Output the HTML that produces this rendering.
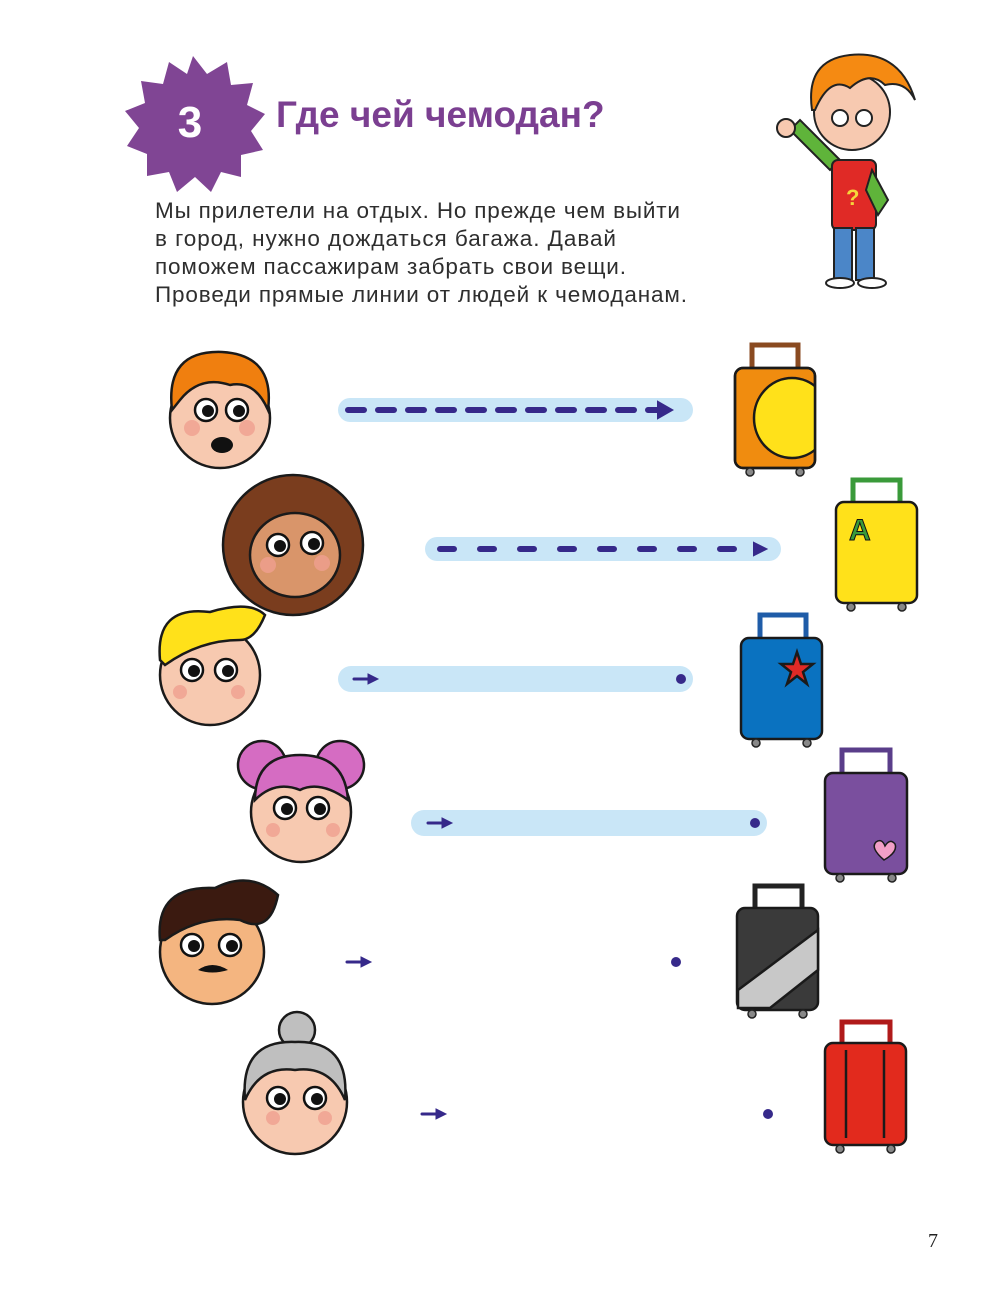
<!DOCTYPE html>
<html><head><meta charset="utf-8"><style>
body{margin:0;background:#fff;}
svg{display:block}
</style></head><body>
<svg width="1000" height="1307" viewBox="0 0 1000 1307" xmlns="http://www.w3.org/2000/svg">
<defs>
<clipPath id="oc"><rect x="735" y="368" width="80" height="100" rx="8"/></clipPath>
</defs>
<!-- star -->
<polygon fill="#804594" points="190,56 204,74 224,62 228,85 250,83 244,105 262,114 248,131 260,150 238,155 238,177 218,172 208,192 192,177 174,192 166,172 144,176 144,154 124,146 136,128 122,111 142,103 138,81 160,84 166,62 184,74" transform="translate(3,0)"/>
<text x="190" y="137" font-family="Liberation Sans, sans-serif" font-weight="bold" font-size="44" fill="#fff" text-anchor="middle">3</text>
<text x="276" y="127" font-family="Liberation Sans, 'DejaVu Sans', sans-serif" font-weight="bold" font-size="37" fill="#7b3f91">Где чей чемодан?</text>
<g font-family="Liberation Sans, 'DejaVu Sans', sans-serif" font-size="22.5" fill="#2e2e2e">
<text x="155" y="218" textLength="525">Мы прилетели на отдых. Но прежде чем выйти</text>
<text x="155" y="246" textLength="461">в город, нужно дождаться багажа. Давай</text>
<text x="155" y="274" textLength="471">поможем пассажирам забрать свои вещи.</text>
<text x="155" y="302" textLength="532">Проведи прямые линии от людей к чемоданам.</text>
</g>
<!-- kid character -->
<g stroke="#222" stroke-width="2">
<path d="M790 130 L830 170 L840 160 L800 120 Z" fill="#5fb43a"/>
<circle cx="786" cy="128" r="9" fill="#f7c9b0"/>
<rect x="832" y="160" width="44" height="70" rx="6" fill="#e02a26"/>
<path d="M872 170 L888 200 L878 215 L866 190 Z" fill="#5fb43a"/>
<rect x="834" y="228" width="18" height="52" fill="#4b86c8"/>
<rect x="856" y="228" width="18" height="52" fill="#4b86c8"/>
<ellipse cx="840" cy="283" rx="14" ry="5" fill="#fff"/>
<ellipse cx="872" cy="283" rx="14" ry="5" fill="#fff"/>
<circle cx="852" cy="112" r="38" fill="#f7c9b0"/>
<path d="M812 110 Q805 60 850 55 Q900 50 915 100 Q905 80 885 85 Q870 70 850 88 Q830 75 815 110 Z" fill="#f58a12"/>
<circle cx="840" cy="118" r="8" fill="#fff"/><circle cx="864" cy="118" r="8" fill="#fff"/>
</g>
<text x="846" y="205" font-family="Liberation Sans,sans-serif" font-size="22" font-weight="bold" fill="#f5d53b">?</text>
<!-- tracks -->
<g fill="#c9e6f7">
<rect x="338" y="398" width="355" height="24" rx="12"/>
<rect x="425" y="537" width="356" height="24" rx="12"/>
<rect x="338" y="666" width="355" height="26" rx="13"/>
<rect x="411" y="810" width="356" height="26" rx="13"/>
</g>
<g stroke="#36298a" stroke-width="6" stroke-linecap="round" fill="#36298a">
<line x1="348" y1="410" x2="660" y2="410" stroke-dasharray="16 14"/>
<polygon points="658,402 672,410 658,418" stroke-width="2"/>
<line x1="440" y1="549" x2="752" y2="549" stroke-dasharray="14 26"/>
<polygon points="754,543 766,549 754,555" stroke-width="2"/>
<line x1="354" y1="679" x2="370" y2="679" stroke-width="3"/><polygon points="368,674 378,679 368,684" stroke-width="1"/>
<circle cx="681" cy="679" r="5" stroke="none"/>
<line x1="428" y1="823" x2="444" y2="823" stroke-width="3"/><polygon points="442,818 452,823 442,828" stroke-width="1"/>
<circle cx="755" cy="823" r="5" stroke="none"/>
<line x1="347" y1="962" x2="363" y2="962" stroke-width="3"/><polygon points="361,957 371,962 361,967" stroke-width="1"/>
<circle cx="676" cy="962" r="5" stroke="none"/>
<line x1="422" y1="1114" x2="438" y2="1114" stroke-width="3"/><polygon points="436,1109 446,1114 436,1119" stroke-width="1"/>
<circle cx="768" cy="1114" r="5" stroke="none"/>
</g>
<!-- faces -->
<g stroke="#1a1a1a" stroke-width="2.5">
<circle cx="220" cy="418" r="50" fill="#f7c9b0"/>
<path d="M172 410 Q165 350 222 352 Q275 355 268 410 Q255 380 230 385 Q200 375 180 400 Z" fill="#f07f0f"/>
<circle cx="293" cy="545" r="70" fill="#7a3d1e"/>
<ellipse cx="295" cy="555" rx="45" ry="42" fill="#d9956a"/>
<circle cx="210" cy="675" r="50" fill="#f7c9b0"/>
<path d="M160 660 Q155 605 210 612 Q250 600 265 615 Q255 640 240 640 Q200 640 165 665 Z" fill="#ffe11a"/>
<circle cx="301" cy="812" r="50" fill="#f7c9b0"/>
<circle cx="262" cy="765" r="24" fill="#d56cc2"/><circle cx="340" cy="765" r="24" fill="#d56cc2"/>
<path d="M255 800 Q255 755 300 755 Q345 755 348 800 Q320 780 300 790 Q275 780 255 800 Z" fill="#d56cc2"/>
<circle cx="212" cy="952" r="52" fill="#f4b580"/>
<path d="M160 940 Q155 885 215 888 Q250 870 278 895 Q270 935 240 920 Q200 915 165 940 Z" fill="#3b1a10"/>
<circle cx="295" cy="1102" r="52" fill="#f7c9b0"/>
<circle cx="297" cy="1030" r="18" fill="#bfbfbf"/>
<path d="M245 1100 Q240 1040 295 1042 Q350 1040 345 1100 Q330 1065 295 1070 Q260 1065 245 1100 Z" fill="#bfbfbf"/>
</g>
<g fill="#f0a090" opacity="0.8">
<circle cx="192" cy="428" r="8"/><circle cx="247" cy="428" r="8"/>
<circle cx="268" cy="565" r="8"/><circle cx="322" cy="563" r="8"/>
<circle cx="180" cy="692" r="7"/><circle cx="238" cy="692" r="7"/>
<circle cx="273" cy="830" r="7"/><circle cx="333" cy="830" r="7"/>
<circle cx="273" cy="1118" r="7"/><circle cx="325" cy="1118" r="7"/>
</g>
<g fill="#fff" stroke="#111" stroke-width="2.5">
<circle cx="206" cy="410" r="11"/><circle cx="237" cy="410" r="11"/>
<circle cx="278" cy="545" r="11"/><circle cx="312" cy="543" r="11"/>
<circle cx="192" cy="670" r="11"/><circle cx="226" cy="670" r="11"/>
<circle cx="285" cy="808" r="11"/><circle cx="318" cy="808" r="11"/>
<circle cx="192" cy="945" r="11"/><circle cx="230" cy="945" r="11"/>
<circle cx="278" cy="1098" r="11"/><circle cx="315" cy="1098" r="11"/>
</g>
<g fill="#111">
<circle cx="208" cy="411" r="6"/><circle cx="239" cy="411" r="6"/>
<circle cx="280" cy="546" r="6"/><circle cx="314" cy="544" r="6"/>
<circle cx="194" cy="671" r="6"/><circle cx="228" cy="671" r="6"/>
<circle cx="287" cy="809" r="6"/><circle cx="320" cy="809" r="6"/>
<circle cx="194" cy="946" r="6"/><circle cx="232" cy="946" r="6"/>
<circle cx="280" cy="1099" r="6"/><circle cx="317" cy="1099" r="6"/>
<path d="M198 970 Q212 960 228 970 Q212 975 198 970Z"/>
<ellipse cx="222" cy="445" rx="11" ry="8"/>
</g>
<!-- suitcases -->
<g stroke="#1a1a1a" stroke-width="2.5">
<path d="M752 368 V345 H798 V368" fill="none" stroke="#8a4a20" stroke-width="5"/>
<rect x="735" y="368" width="80" height="100" rx="8" fill="#f08c0f"/>
<ellipse cx="792" cy="418" rx="38" ry="40" fill="#ffe11a" clip-path="url(#oc)"/>
<rect x="735" y="368" width="80" height="100" rx="8" fill="none"/>
<path d="M853 502 V480 H900 V502" fill="none" stroke="#3a9a3a" stroke-width="5"/>
<rect x="836" y="502" width="81" height="101" rx="8" fill="#ffe11a"/>
<path d="M760 638 V615 H806 V638" fill="none" stroke="#1f5ca8" stroke-width="5"/>
<rect x="741" y="638" width="81" height="101" rx="8" fill="#0a72c0"/>
<polygon points="797,652 801,664 813,664 803,672 807,684 797,676 787,684 791,672 781,664 793,664" fill="#e02a26"/>
<path d="M842 773 V750 H890 V773" fill="none" stroke="#5a3d8a" stroke-width="5"/>
<rect x="825" y="773" width="82" height="101" rx="8" fill="#7a4f9e"/>
<path d="M884 860 Q870 848 876 842 Q882 838 885 846 Q890 838 895 844 Q898 852 884 860Z" fill="#f29fc6" stroke-width="1.5"/>
<path d="M755 908 V886 H802 V908" fill="none" stroke="#222" stroke-width="5"/>
<rect x="737" y="908" width="81" height="102" rx="8" fill="#3a3a3a"/>
<polygon points="738,990 818,930 818,970 770,1008 738,1008" fill="#c8c8c8"/>
<path d="M842 1043 V1022 H890 V1043" fill="none" stroke="#b01a1a" stroke-width="5"/>
<rect x="825" y="1043" width="81" height="102" rx="8" fill="#e22a1d"/>
<line x1="846" y1="1050" x2="846" y2="1138"/><line x1="884" y1="1050" x2="884" y2="1138"/>
</g>
<g fill="#888" stroke="#222" stroke-width="1.5">
<circle cx="750" cy="472" r="4"/><circle cx="800" cy="472" r="4"/>
<circle cx="851" cy="607" r="4"/><circle cx="902" cy="607" r="4"/>
<circle cx="756" cy="743" r="4"/><circle cx="807" cy="743" r="4"/>
<circle cx="840" cy="878" r="4"/><circle cx="892" cy="878" r="4"/>
<circle cx="752" cy="1014" r="4"/><circle cx="803" cy="1014" r="4"/>
<circle cx="840" cy="1149" r="4"/><circle cx="891" cy="1149" r="4"/>
</g>
<text x="849" y="540" font-family="Liberation Sans,sans-serif" font-weight="bold" font-size="30" fill="#3a9a3a" stroke="#111" stroke-width="1">A</text>
<text x="928" y="1247" font-family="Liberation Serif,serif" font-size="20" fill="#222">7</text>
</svg>
</body></html>
